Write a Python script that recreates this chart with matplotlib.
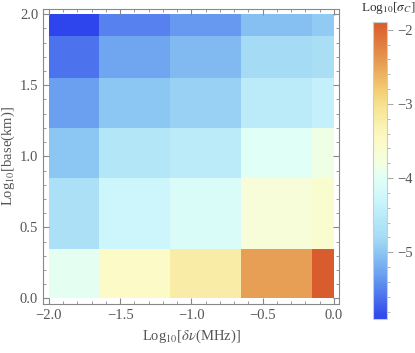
import matplotlib
matplotlib.use("Agg")
import matplotlib.pyplot as plt
import numpy as np
from matplotlib.colors import LinearSegmentedColormap
from matplotlib.ticker import MultipleLocator

plt.rcParams['font.family'] = ['Liberation Serif', 'DejaVu Serif']
plt.rcParams['mathtext.fontset'] = 'stix'

# log10 of channel width (MHz) and baseline (km)
log_dnu = [-2.0, -1.301, -1.0, -0.301, 0.0]
log_base = [0.0, 0.699, 1.0, 1.398, 1.699, 2.0]

# log10 sigma_C, rows follow log_base, columns follow log_dnu
log_sigma = np.array([
    [-3.95, -3.50, -3.20, -2.45, -1.90],
    [-4.70, -4.30, -4.10, -3.70, -3.60],
    [-5.00, -4.60, -4.50, -4.00, -3.85],
    [-5.30, -5.00, -4.90, -4.50, -4.40],
    [-5.60, -5.25, -5.10, -4.80, -4.75],
    [-5.90, -5.50, -5.35, -5.05, -4.95],
])

# colour function sampled off the legend bar
cmap_vals = [-5.9, -5.6, -5.3, -5.0, -4.8, -4.6, -4.3, -4.0, -3.8, -3.5,
             -3.3, -3.0, -2.8, -2.5, -2.2, -1.9]
cmap_cols = [(0.18, 0.27, 0.93), (0.30, 0.45, 0.93), (0.42, 0.63, 0.94),
             (0.55, 0.78, 0.95), (0.65, 0.86, 0.96), (0.70, 0.90, 0.97),
             (0.80, 0.96, 0.99), (0.88, 1.00, 0.97), (0.95, 1.00, 0.88),
             (0.99, 0.98, 0.78), (0.98, 0.95, 0.70), (0.97, 0.88, 0.55),
             (0.95, 0.80, 0.45), (0.91, 0.65, 0.35), (0.88, 0.50, 0.25),
             (0.85, 0.36, 0.18)]
vmin, vmax = -5.9, -1.9
pos = [(v - vmin) / (vmax - vmin) for v in cmap_vals]
cmap = LinearSegmentedColormap.from_list('temp', list(zip(pos, cmap_cols)))


def edges(c):
    c = np.asarray(c)
    return np.concatenate([[c[0]], (c[:-1] + c[1:]) / 2, [c[-1]]])


gray = '#555555'
fs = 10.5
fig = plt.figure(figsize=(4.15, 3.53), dpi=100)
ax = fig.add_axes([0.1036, 0.1388, 0.713, 0.836])
mesh = ax.pcolormesh(edges(log_dnu), edges(log_base), log_sigma,
                     cmap=cmap, vmin=vmin, vmax=vmax, shading='flat')
ax.set_xlim(-2.042, 0.035)
ax.set_ylim(-0.039, 2.037)
ax.xaxis.set_major_locator(MultipleLocator(0.5))
ax.xaxis.set_minor_locator(MultipleLocator(0.1))
ax.yaxis.set_major_locator(MultipleLocator(0.5))
ax.yaxis.set_minor_locator(MultipleLocator(0.1))
ax.xaxis.set_major_formatter(lambda v, p: f'{v:.1f}'.replace('-', '\u2212'))
ax.yaxis.set_major_formatter(lambda v, p: f'{v:.1f}'.replace('-', '\u2212'))
ax.tick_params(which='both', direction='in', top=True, right=True,
               color='#888888', labelcolor=gray, labelsize=fs)
ax.tick_params(which='major', length=4)
ax.tick_params(which='minor', length=2)
for s in ax.spines.values():
    s.set_color('#888888')
ax.set_xlabel(r'Log$_{10}$[$\delta\nu$(MHz)]', color=gray, fontsize=fs)
ax.set_ylabel(r'Log$_{10}$[base(km)]', color=gray, fontsize=fs, labelpad=2)

cax = fig.add_axes([0.898, 0.0963, 0.0337, 0.8405])
cb = fig.colorbar(mesh, cax=cax)
cb.set_ticks([-5, -4, -3, -2])
cb.ax.set_yticklabels(['\u22125', '\u22124', '\u22123', '\u22122'])
cb.ax.yaxis.set_minor_locator(MultipleLocator(0.2))
cb.ax.tick_params(which='both', color='#aaaaaa', labelcolor=gray, labelsize=fs)
cb.ax.tick_params(which='major', length=4)
cb.ax.tick_params(which='minor', length=2)
cb.outline.set_edgecolor('#cccccc')
fig.text(0.935, 0.977, r'Log$_{10}$[$\sigma_C$]', color='#333333',
         fontsize=9.5, ha='center', va='center')

fig.savefig('out.png', dpi=100)
